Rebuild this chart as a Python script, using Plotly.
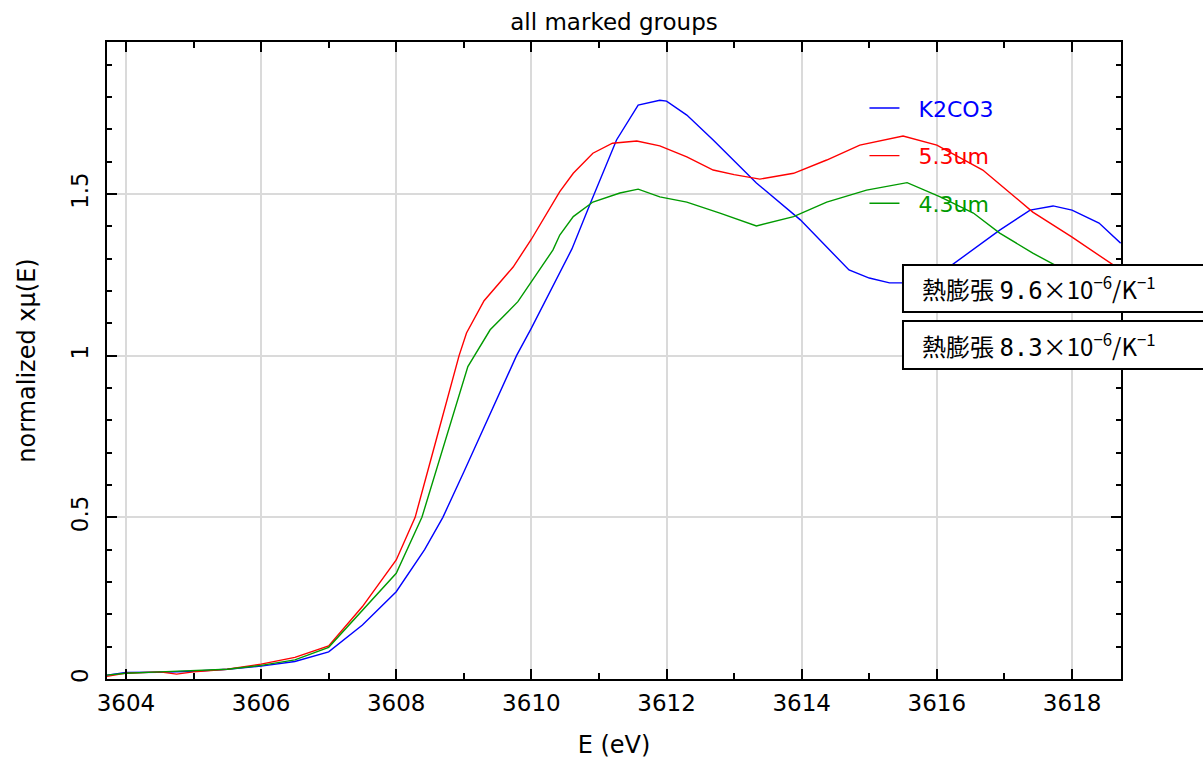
import plotly.graph_objects as go

# ---- data ----
e_k2co3 = [3603.72, 3604.0, 3604.5, 3605.0, 3605.5, 3606.0, 3606.5, 3607.0, 3607.5, 3608.0,
           3608.42, 3608.69, 3609.0, 3609.78, 3610.0, 3610.42, 3610.6, 3610.87, 3611.26, 3611.58,
           3611.9, 3612.0, 3612.3, 3612.69, 3613.33, 3613.98, 3614.37, 3614.7, 3615.0, 3615.3,
           3615.5, 3615.8, 3616.2, 3616.93, 3617.38, 3617.72, 3618.0, 3618.4, 3618.72]
mu_k2co3 = [0.012, 0.02, 0.021, 0.024, 0.03, 0.04, 0.054, 0.084, 0.167, 0.27,
            0.40, 0.50, 0.64, 1.0, 1.085, 1.255, 1.33, 1.47, 1.667, 1.775,
            1.79, 1.787, 1.744, 1.667, 1.534, 1.42, 1.337, 1.265, 1.24, 1.225,
            1.225, 1.24, 1.277, 1.388, 1.45, 1.463, 1.45, 1.41, 1.348]

e_53um = [3603.72, 3604.0, 3604.5, 3604.75, 3605.0, 3605.5, 3606.0, 3606.5, 3607.0, 3607.5,
          3608.0, 3608.28, 3608.6, 3608.93, 3609.04, 3609.3, 3609.73, 3610.0, 3610.42, 3610.62,
          3610.91, 3611.2, 3611.56, 3611.9, 3612.3, 3612.69, 3613.0, 3613.38, 3613.88, 3614.37,
          3614.86, 3615.5, 3616.0, 3616.68, 3616.93, 3617.42, 3617.99, 3618.56, 3618.72]
mu_53um = [0.008, 0.018, 0.022, 0.015, 0.022, 0.03, 0.046, 0.067, 0.102, 0.224,
           0.368, 0.5, 0.746, 1.0, 1.07, 1.17, 1.274, 1.36, 1.507, 1.564,
           1.626, 1.657, 1.664, 1.649, 1.615, 1.574, 1.56, 1.546, 1.564, 1.605,
           1.651, 1.679, 1.651, 1.574, 1.53, 1.444, 1.368, 1.286, 1.265]

e_43um = [3603.72, 3604.0, 3604.5, 3605.0, 3605.5, 3606.0, 3606.5, 3607.0, 3607.5, 3608.0,
          3608.38, 3608.7, 3609.06, 3609.39, 3609.8, 3610.32, 3610.42, 3610.62, 3610.91, 3611.31,
          3611.58, 3611.9, 3612.3, 3612.79, 3613.33, 3613.88, 3614.37, 3614.96, 3615.56, 3616.05,
          3616.54, 3616.93, 3617.42, 3617.75, 3618.2, 3618.72]
mu_43um = [0.012, 0.018, 0.022, 0.026, 0.03, 0.042, 0.059, 0.098, 0.211, 0.327,
           0.5, 0.72, 0.966, 1.08, 1.167, 1.327, 1.373, 1.43, 1.475, 1.503,
           1.515, 1.491, 1.475, 1.441, 1.401, 1.43, 1.475, 1.512, 1.535, 1.491,
           1.441, 1.379, 1.317, 1.28, 1.24, 1.2]

series_names = ["K2CO3", "5.3um", "4.3um"]
series_colors = ["#0000ff", "#ff0000", "#009a00"]
note_values = ["9.6", "8.3"]

x_ticks = [3604, 3606, 3608, 3610, 3612, 3614, 3616, 3618]
y_ticks = [0, 0.5, 1, 1.5]
y_ticktext = ["0", "0.5", "1", "1.5"]

FONT = "DejaVu Sans"

fig = go.Figure()
for e, mu, name, col in zip([e_k2co3, e_53um, e_43um], [mu_k2co3, mu_53um, mu_43um],
                            series_names, series_colors):
    fig.add_trace(go.Scatter(
        x=e, y=mu, mode="lines", line=dict(color=col, width=1.4),
        name=f"&nbsp;&nbsp;<span style='color:{col}'>{name}</span>",
        legendgroup=name,
    ))

axis_common = dict(
    showline=True, linecolor="black", linewidth=2, mirror="allticks",
    ticks="inside", tickcolor="black", tickwidth=2,
    showgrid=True, gridcolor="#dadada", gridwidth=1.5,
    zeroline=False, tickfont=dict(family=FONT, size=23, color="black"),
    automargin=False,
)

fig.update_xaxes(
    range=[3603.72, 3618.725], tickvals=x_ticks, ticklen=10,
    minor=dict(ticks="inside", ticklen=6, dtick=1, tickcolor="black", tickwidth=2, showgrid=False),
    title=dict(text="E (eV)", font=dict(family=FONT, size=24, color="black"), standoff=22),
    ticklabelstandoff=2,
    **axis_common,
)
fig.update_yaxes(
    range=[0, 1.97], tickvals=y_ticks, ticktext=y_ticktext, ticklen=10, tickangle=-90,
    minor=dict(ticks="inside", ticklen=5, dtick=0.1, tickcolor="black", tickwidth=2, showgrid=False),
    title=dict(text="normalized xμ(E)", font=dict(family=FONT, size=24, color="black"), standoff=24),
    ticklabelstandoff=8,
    **axis_common,
)

# annotation boxes
box_y = [(0.5761, 0.650), (0.4867, 0.562)]
for (y0, y1), val in zip(box_y, note_values):
    txt = (f"熱膨張 <span style='font-family:DejaVu Sans Mono'>{val}</span>"
           f"×10<sup>−6</sup>/K<sup>−1</sup>")
    fig.add_shape(type="rect", xref="paper", yref="paper", x0=0.785, x1=1.2, y0=y0, y1=y1,
                  line=dict(color="black", width=2), fillcolor="white", layer="above")
    fig.add_annotation(xref="paper", yref="paper", x=0.8018, y=(y0 + y1) / 2,
                       xanchor="left", yanchor="middle", text=txt, showarrow=False,
                       font=dict(family="Noto Sans CJK JP", size=24, color="black"))

fig.update_layout(
    width=1203, height=762,
    margin=dict(l=107, r=82, t=42, b=83, autoexpand=False),
    paper_bgcolor="white", plot_bgcolor="white",
    title=dict(text="all marked groups", x=0.5, xref="paper", y=0.971, yanchor="middle",
               font=dict(family=FONT, size=23, color="black")),
    showlegend=True,
    legend=dict(x=0.747, y=0.929, xanchor="left", yanchor="top",
                bgcolor="rgba(0,0,0,0)", tracegroupgap=16,
                font=dict(family=FONT, size=22)),
)

fig.write_html("out.html", config={"displayModeBar": False},
               post_script="document.body.style.margin='0';")
